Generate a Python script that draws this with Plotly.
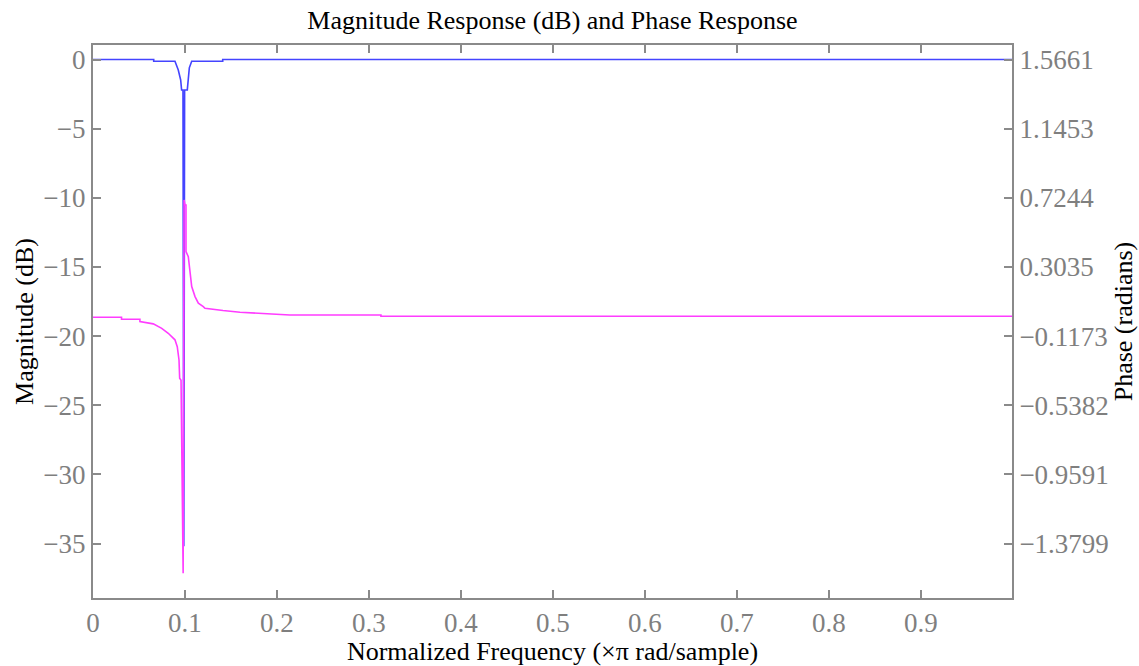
import plotly.graph_objects as go

# Magnitude response (dB)
mag_freq = [0, 0.066, 0.066, 0.0891, 0.0927, 0.0953, 0.0963, 0.0978, 0.0987, 0.0996,
            0.1025, 0.1036, 0.1047, 0.1073, 0.141, 0.141, 0.999]
mag_db = [0, 0, -0.12, -0.12, -0.76, -1.48, -2.2, -2.2, -35.2, -2.2,
          -2.2, -1.48, -0.6, -0.12, -0.12, 0, 0]

# Phase response (radians)
phase_freq = [0, 0.031, 0.031, 0.051, 0.051, 0.0655, 0.0747, 0.0818, 0.0891, 0.0916,
              0.0935, 0.0942, 0.0957, 0.0964, 0.0980, 0.0990, 0.1000, 0.1011, 0.1011,
              0.1036, 0.1054, 0.1073, 0.1109, 0.1145, 0.1199, 0.1217, 0.1413, 0.1598,
              0.1942, 0.2141, 0.313, 0.313, 0.999]
phase_rad = [-0.003, -0.003, -0.015, -0.015, -0.029, -0.043, -0.070, -0.100, -0.140, -0.182,
             -0.263, -0.374, -0.386, -0.669, -1.561, 0.711, 0.681, 0.681, 0.397,
             0.366, 0.265, 0.184, 0.123, 0.083, 0.062, 0.052, 0.038, 0.028,
             0.017, 0.011, 0.011, 0.003, 0.003]

x_ticks = [0, 0.1, 0.2, 0.3, 0.4, 0.5, 0.6, 0.7, 0.8, 0.9]
x_ticklabels = ["0", "0.1", "0.2", "0.3", "0.4", "0.5", "0.6", "0.7", "0.8", "0.9"]
mag_ticks = [0, -5, -10, -15, -20, -25, -30, -35]
phase_ticks = [1.5661, 1.1453, 0.7244, 0.3035, -0.1173, -0.5382, -0.9591, -1.3799]

mag_range = [-38.94, 1.05]
# right axis is a linear map of the left axis
slope = (phase_ticks[0] - phase_ticks[-1]) / (mag_ticks[0] - mag_ticks[-1])
phase_range = [phase_ticks[0] + (r - mag_ticks[0]) * slope for r in mag_range]

gray = "#8a8a8a"
tick_gray = "#7f7f7f"
font_family = "Liberation Serif, Times New Roman, serif"

fig = go.Figure()
fig.add_trace(go.Scatter(x=mag_freq, y=mag_db, mode="lines",
                         line=dict(color="#4444ff", width=1.6), yaxis="y",
                         showlegend=False))
fig.add_trace(go.Scatter(x=phase_freq, y=phase_rad, mode="lines",
                         line=dict(color="#ff3cff", width=1.6), yaxis="y2",
                         showlegend=False))

fig.update_layout(
    width=1139, height=666,
    margin=dict(l=93, r=127, t=45, b=68),
    paper_bgcolor="white", plot_bgcolor="white",
    font=dict(family=font_family, size=26, color="black"),
    title=dict(text="Magnitude Response (dB) and Phase Response",
               x=0.5, xref="paper", xanchor="center", y=0.970, yanchor="middle",
               font=dict(size=26, color="black")),
    xaxis=dict(range=[0, 0.999], tickvals=x_ticks, ticktext=x_ticklabels,
               automargin=False,
               showgrid=False, zeroline=False, showline=True, linecolor=gray,
               linewidth=2, mirror="ticks", ticks="inside", ticklen=8,
               tickcolor=gray, tickwidth=2,
               tickfont=dict(color=tick_gray, size=27),
               title=dict(text="Normalized Frequency (×π rad/sample)",
                          font=dict(size=26, color="black"), standoff=4)),
    yaxis=dict(range=mag_range, tickvals=mag_ticks,
               ticktext=[str(v).replace("-", "−") for v in mag_ticks],
               automargin=False,
               showgrid=False, zeroline=False, showline=True, linecolor=gray,
               linewidth=2, ticks="inside", ticklen=8, tickcolor=gray, tickwidth=2,
               tickfont=dict(color=tick_gray, size=27),
               title=dict(text="Magnitude (dB)", font=dict(size=26, color="black"),
                          standoff=2)),
    yaxis2=dict(range=phase_range, tickvals=phase_ticks,
                ticktext=[("%.4f" % v).replace("-", "−") for v in phase_ticks],
                overlaying="y", side="right", automargin=False,
                showgrid=False, zeroline=False, showline=True, linecolor=gray,
                linewidth=2, ticks="inside", ticklen=8, tickcolor=gray, tickwidth=2,
                tickfont=dict(color=tick_gray, size=27),
                title=dict(text="Phase (radians)", font=dict(size=26, color="black"),
                           standoff=5)),
)

fig.write_html("out.html")
